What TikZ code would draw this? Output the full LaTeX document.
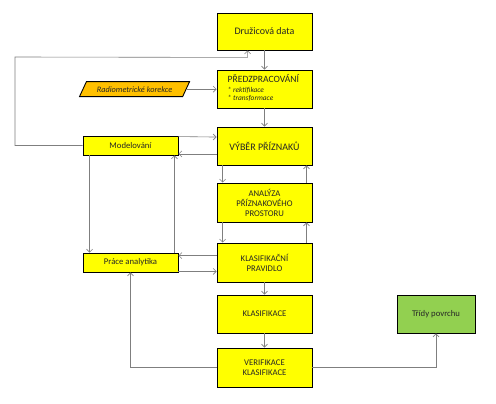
\documentclass[tikz,border=0pt]{standalone}
\usepackage{fontspec}
\setmainfont{Carlito}
\usetikzlibrary{arrows.meta,calc,shapes.geometric}
\definecolor{boxyellow}{HTML}{FFFF00}
\definecolor{boxgreen}{HTML}{92D050}
\definecolor{boxorange}{HTML}{FFC000}
\definecolor{conngray}{HTML}{7F7F7F}
\definecolor{txt}{HTML}{262626}
\tikzset{
  box/.style={draw=black, line width=0.9pt, fill=boxyellow, minimum width=95pt,
    minimum height=38pt, align=center, text=txt, font=\fontsize{8.7}{10}\selectfont, inner sep=1pt},
  smallbox/.style={box, minimum height=19pt},
  conn/.style={draw=conngray, line width=0.6pt, -{Straight Barb[length=3pt,width=6pt]}}
}
\begin{document}
\begin{tikzpicture}[x=1pt,y=-1pt]
\useasboundingbox (0,0) rectangle (496,404);
\fill[white] (0,0) rectangle (496,404);
% nodes
\node[box, minimum height=37pt, font=\fontsize{10}{11}\selectfont] (dd) at (264.5,31.5) {Družicová data};
\node[box] (pre) at (264.5,89) {};
\node[anchor=west, inner sep=0pt, text=txt, font=\fontsize{9.6}{10}\selectfont] (preT) at (227.5,79) {PŘEDZPRACOVÁNÍ};
\node[anchor=west, inner sep=0pt, text=txt, font=\itshape\fontsize{7.4}{8}\selectfont] (preA) at (227.5,90) {* rektifikace};
\node[anchor=west, inner sep=0pt, text=txt, font=\itshape\fontsize{7.4}{8}\selectfont] (preB) at (227.5,98.5) {* transformace};
\node[box, font=\fontsize{10}{11}\selectfont] (vyb) at (264.5,146) {VÝBĚR PŘÍZNAKŮ};
\node[box, minimum height=39pt] (ana) at (264.5,202.5) {ANALÝZA\\PŘÍZNAKOVÉHO\\PROSTORU};
\node[box, minimum height=39pt] (kp) at (264.5,262.5) {KLASIFIKAČNÍ\\PRAVIDLO};
\node[box] (kl) at (264.5,314) {KLASIFIKACE};
\node[box, minimum height=39pt] (ver) at (264.5,367.5) {VERIFIKACE\\KLASIFIKACE};
\node[box, fill=boxgreen, minimum width=78pt] (tri) at (436,314) {Třídy povrchu};
\node[smallbox] (mod) at (130.5,145.5) {Modelování};
\node[smallbox] (pa) at (130.5,262.5) {Práce analytika};
\node[trapezium, trapezium left angle=47, trapezium right angle=133, trapezium stretches=true,
  draw=black, line width=0.9pt, fill=boxorange, minimum width=111pt, minimum height=15pt,
  inner sep=0pt, text=txt, font=\itshape\fontsize{8.3}{9}\selectfont] (rad) at (134.5,89.2) {Radiometrické korekce};
% connectors
\draw[conn] (dd.south) -- (pre.north);
\draw[conn] (pre.south) -- (vyb.north);
\draw[conn] (rad.east) -- (rad.east -| pre.west);
\draw[conn] (mod.west) -- (15,145.5) -- (15,57) -- ($(dd.south west)+(31,7)$) -- ($(dd.south west)+(31,0)$);
\draw[conn] ($(mod.north east)+(0,1)$) -- ($(vyb.west |- mod.north)+(0,1.5)$);
\draw[conn] ($(vyb.west |- mod.south)+(0,-1.5)$) -- ($(mod.south east)+(0,-1.5)$);
\draw[conn] ($(vyb.south west)+(6,0)$) -- ($(ana.north west)+(6,0)$);
\draw[conn] ($(ana.north east)+(-6,0)$) -- ($(vyb.south east)+(-6,0)$);
\draw[conn] ($(ana.south west)+(6,0)$) -- ($(kp.north west)+(6,0)$);
\draw[conn] ($(kp.north east)+(-6,0)$) -- ($(ana.south east)+(-6,0)$);
\draw[conn] ($(mod.south west)+(7,0)$) -- ($(pa.north west)+(7,0)$);
\draw[conn] ($(pa.north east)+(-4,0)$) -- ($(mod.south east)+(-4,0)$);
\draw[conn] ($(kp.west |- pa.north)+(0,3)$) -- ($(pa.north east)+(0,3)$);
\draw[conn] ($(pa.south east)+(0,-1)$) -- ($(kp.west |- pa.south)+(0,-1)$);
\draw[conn] (kp.south) -- (kl.north);
\draw[conn] (kl.south) -- (ver.north);
\draw[conn] (ver.west) -| (pa.south);
\draw[conn] (ver.east) -| (tri.south);
\end{tikzpicture}
\end{document}
